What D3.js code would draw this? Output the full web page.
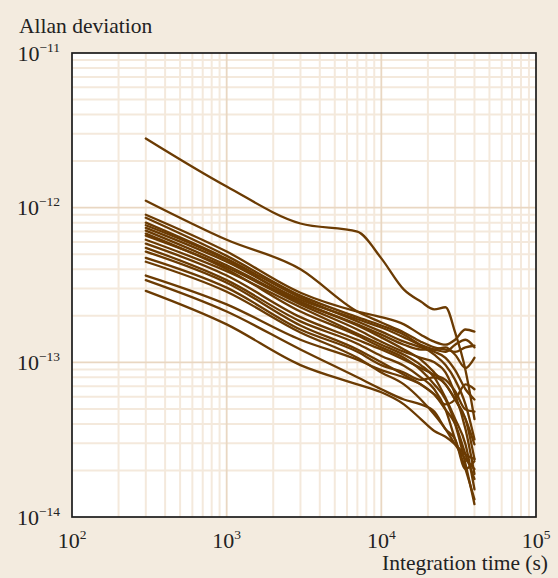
<!DOCTYPE html>
<html><head><meta charset="utf-8">
<script src="https://cdn.jsdelivr.net/npm/d3@7"></script>
<style>html,body{margin:0;padding:0;background:#fff;}svg{display:block;}</style>
</head><body>
<svg id="c" width="558" height="578"></svg>
<script>
// ---- data ----
const taus = [300, 1000, 3000, 7000, 10000, 14000, 18000, 22000, 26000, 30000, 35000, 40000];
const xTickExps = [2, 3, 4, 5];
const yTickExps = [-14, -13, -12, -11];
const series = [
  [2.8e-12, 1.37e-12, 7.9e-13, 7.0e-13, 4.7e-13, 2.95e-13, 2.47e-13, 2.2e-13, 2.27e-13, 1.56e-13, 8.9e-14, 4.3e-14],
  [1.11e-12, 6.2e-13, 4.0e-13, 2.13e-13, 1.81e-13, 1.56e-13, 1.36e-13, 1.25e-13, 1.21e-13, 1.17e-13, 1.25e-13, 1.28e-13],
  [9.0e-13, 5.2e-13, 2.82e-13, 2.13e-13, 1.96e-13, 1.76e-13, 1.51e-13, 1.36e-13, 1.3e-13, 1.4e-13, 1.63e-13, 1.58e-13],
  [8.6e-13, 4.88e-13, 2.7e-13, 1.96e-13, 1.73e-13, 1.51e-13, 1.3e-13, 1.21e-13, 1.17e-13, 1.3e-13, 1.4e-13, 1.25e-13],
  [8.0e-13, 4.67e-13, 2.62e-13, 1.84e-13, 1.58e-13, 1.36e-13, 1.25e-13, 1.17e-13, 1.07e-13, 8.9e-14, 6.7e-14, 5.75e-14],
  [7.4e-13, 4.47e-13, 2.54e-13, 1.9e-13, 1.68e-13, 1.45e-13, 1.28e-13, 1.12e-13, 9.6e-14, 7.7e-14, 5.35e-14, 3.18e-14],
  [7.1e-13, 4.24e-13, 2.44e-13, 1.73e-13, 1.45e-13, 1.21e-13, 1.04e-13, 8.6e-14, 7.2e-14, 5.75e-14, 4.3e-14, 2.37e-14],
  [6.6e-13, 4.12e-13, 2.37e-13, 1.63e-13, 1.36e-13, 1.17e-13, 1.07e-13, 1.0e-13, 8.6e-14, 6.2e-14, 3.7e-14, 1.9e-14],
  [6.2e-13, 3.88e-13, 2.27e-13, 1.53e-13, 1.3e-13, 1.12e-13, 9.6e-14, 8.0e-14, 5.9e-14, 4.3e-14, 2.95e-14, 1.51e-14],
  [5.85e-13, 3.64e-13, 1.96e-13, 1.4e-13, 1.21e-13, 1.04e-13, 9.2e-14, 8.3e-14, 7.7e-14, 6.5e-14, 4.95e-14, 4.8e-14],
  [5.5e-13, 3.4e-13, 1.84e-13, 1.32e-13, 1.1e-13, 9.5e-14, 8.0e-14, 6.7e-14, 4.95e-14, 3.18e-14, 2.04e-14, 1.3e-14],
  [5.2e-13, 3.27e-13, 1.73e-13, 1.21e-13, 1.0e-13, 8.3e-14, 7.2e-14, 6.2e-14, 4.95e-14, 4.0e-14, 2.54e-14, 1.76e-14],
  [4.74e-13, 3.04e-13, 1.63e-13, 1.17e-13, 9.6e-14, 8.6e-14, 7.7e-14, 8.0e-14, 7.2e-14, 5.75e-14, 4.3e-14, 2.95e-14],
  [4.47e-13, 2.86e-13, 1.56e-13, 1.07e-13, 8.6e-14, 7.2e-14, 5.75e-14, 4.6e-14, 3.7e-14, 2.95e-14, 2.37e-14, 2.04e-14],
  [3.64e-13, 2.37e-13, 1.4e-13, 1.04e-13, 8.9e-14, 8.0e-14, 7.2e-14, 6.2e-14, 5.35e-14, 5.75e-14, 7.2e-14, 6.7e-14],
  [3.4e-13, 2.13e-13, 1.21e-13, 8.0e-14, 6.7e-14, 5.75e-14, 5.35e-14, 4.8e-14, 3.7e-14, 3.18e-14, 2.04e-14, 2.3e-14],
  [2.9e-13, 1.76e-13, 9.6e-14, 7.2e-14, 6.4e-14, 5.35e-14, 4.3e-14, 3.6e-14, 3.3e-14, 2.95e-14, 2.54e-14, 2.37e-14],
  [7.7e-13, 4.6e-13, 2.47e-13, 1.76e-13, 1.51e-13, 1.3e-13, 1.21e-13, 1.21e-13, 1.25e-13, 1.12e-13, 9.2e-14, 1.07e-13],
  [6.8e-13, 4.0e-13, 2.13e-13, 1.49e-13, 1.25e-13, 1.07e-13, 8.9e-14, 7.2e-14, 5.75e-14, 4.0e-14, 2.2e-14, 1.21e-14]
];
const yTitle = "Allan deviation";
const xTitle = "Integration time (s)";

// ---- drawing ----
const W = 558, H = 578;
const L = 72, R = 536, T = 53, B = 517;
const svg = d3.select("#c");
const font = "'Liberation Serif','Times New Roman',serif";
const lineColor = "#6b3b03";

svg.append("rect").attr("x", 0).attr("y", 0).attr("width", W).attr("height", H).attr("fill", "#f3ebdf");

const x = d3.scaleLog().domain([1e2, 1e5]).range([L, R]);
const y = d3.scaleLog().domain([1e-14, 1e-11]).range([B, T]);

svg.append("rect").attr("x", L).attr("y", T).attr("width", R - L).attr("height", B - T).attr("fill", "#fff");

const isMajor = v => Math.abs(Math.log10(v) - Math.round(Math.log10(v))) < 1e-9;
const xt = x.ticks().filter(v => v > 1e2 && v < 1e5);
const yt = y.ticks().filter(v => v > 1e-14 && v < 1e-11);

const g = svg.append("g");
g.selectAll("line.xm").data(xt.filter(v => !isMajor(v))).join("line")
  .attr("x1", d => x(d)).attr("x2", d => x(d)).attr("y1", T).attr("y2", B)
  .attr("stroke", "#f4e9dc").attr("stroke-width", 2);
g.selectAll("line.ym").data(yt.filter(v => !isMajor(v))).join("line")
  .attr("y1", d => y(d)).attr("y2", d => y(d)).attr("x1", L).attr("x2", R)
  .attr("stroke", "#f4e9dc").attr("stroke-width", 2);
g.selectAll("line.xM").data(xt.filter(isMajor)).join("line")
  .attr("x1", d => x(d)).attr("x2", d => x(d)).attr("y1", T).attr("y2", B)
  .attr("stroke", "#e9d7c2").attr("stroke-width", 1.8);
g.selectAll("line.yM").data(yt.filter(isMajor)).join("line")
  .attr("y1", d => y(d)).attr("y2", d => y(d)).attr("x1", L).attr("x2", R)
  .attr("stroke", "#e9d7c2").attr("stroke-width", 1.8);

const line = d3.line().x((d, i) => x(taus[i])).y(d => y(d)).curve(d3.curveMonotoneX);
svg.append("g").selectAll("path").data(series).join("path")
  .attr("d", line).attr("fill", "none").attr("stroke", lineColor)
  .attr("stroke-width", 2.3).attr("stroke-linejoin", "round").attr("stroke-linecap", "round");

svg.append("rect").attr("x", L).attr("y", T).attr("width", R - L).attr("height", B - T)
  .attr("fill", "none").attr("stroke", "#1a1a1a").attr("stroke-width", 1.7);

// y tick labels
const yl = svg.append("g").attr("font-family", font).attr("fill", "#222");
yTickExps.forEach(e => {
  const t = yl.append("text").attr("x", 60).attr("y", y(Math.pow(10, e)) + 7.5)
    .attr("text-anchor", "end").attr("font-size", 22);
  t.append("tspan").text("10");
  t.append("tspan").attr("font-size", 13.5).attr("dy", -9).text("\u2212" + Math.abs(e));
});
// x tick labels
xTickExps.forEach(e => {
  const t = yl.append("text").attr("x", x(Math.pow(10, e))).attr("y", 548)
    .attr("text-anchor", "middle").attr("font-size", 22);
  t.append("tspan").text("10");
  t.append("tspan").attr("font-size", 13.5).attr("dy", -9).text(String(e));
});
yl.append("text").attr("x", 19).attr("y", 33).attr("font-size", 21.5).text(yTitle);
yl.append("text").attr("x", 548).attr("y", 570).attr("text-anchor", "end").attr("font-size", 21.5).text(xTitle);
</script>
</body></html>
